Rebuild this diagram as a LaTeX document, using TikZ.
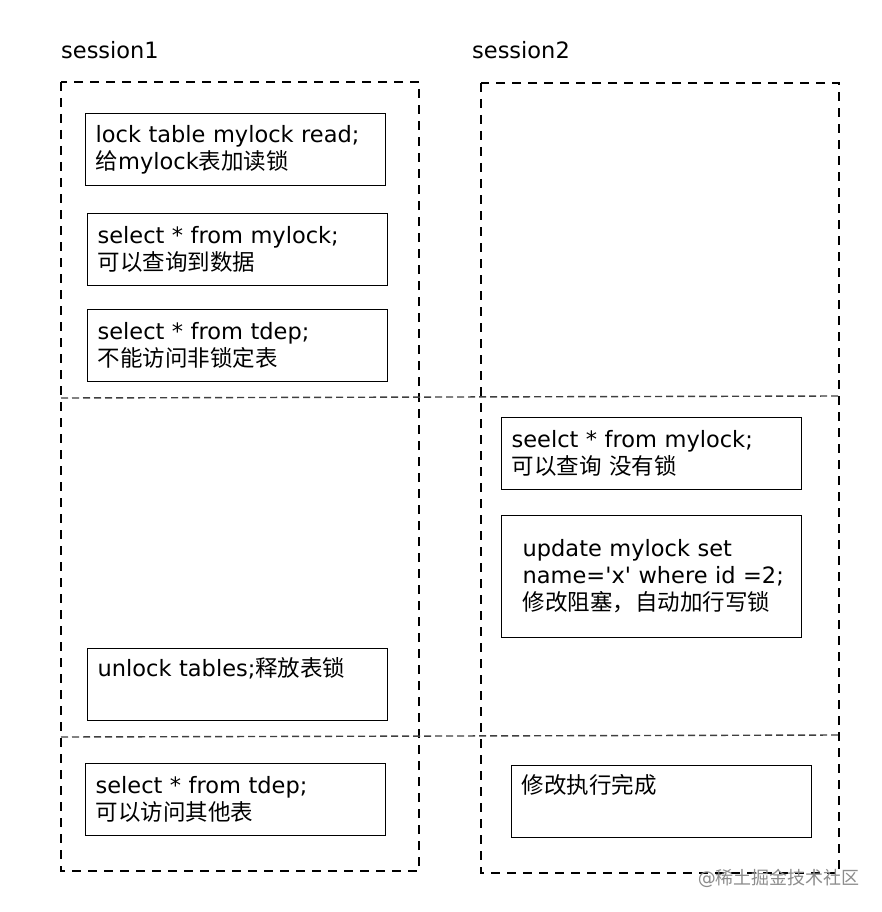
\documentclass[tikz,border=0pt]{standalone}
\usepackage{fontspec}
\setmainfont{DejaVu Sans}[Ligatures=TeXOff]
\newfontfamily\cjk{Noto Sans CJK SC}
\begin{document}
\begin{tikzpicture}[x=1pt,y=-1pt,
  lane/.style={draw=black, line width=1.4pt, dash pattern=on 9pt off 7pt},
  sep/.style={draw=black!75, line width=1.4pt, dash pattern=on 7pt off 4pt},
  stepbox/.style={draw=black, line width=1.3pt, anchor=north west,
    minimum width=300pt, minimum height=72pt, text width=280pt,
    inner xsep=10pt, inner ysep=4pt, align=left,
    font=\fontsize{22.5}{27}\selectfont},
  label/.style={anchor=west, font=\fontsize{22.5}{25}\selectfont, inner sep=0pt}]
\useasboundingbox (0,0) rectangle (882,912);
\fill[white] (0,0) rectangle (882,912);
% session labels
\node[label] (s1) at (61,50) {session1};
\node[label] (s2) at (472,50) {session2};
% session lanes
\draw[lane] (61,82) rectangle (419,871);
\draw[lane] (481,83) rectangle (839,873);
% phase separators
\draw[sep] (61,398) -- (839,396);
\draw[sep] (61,737) -- (839,735);
% session1 steps
\node[stepbox] (a1) at (85,113) {lock table mylock read;\\{\cjk 给}mylock{\cjk 表加读锁}};
\node[stepbox] (a2) at (87,213) {select * from mylock;\\{\cjk 可以查询到数据}};
\node[stepbox] (a3) at (87,309) {select * from tdep;\\{\cjk 不能访问非锁定表}};
\node[stepbox] (a4) at (87,648) {unlock tables;{\cjk 释放表锁}\\\strut};
\node[stepbox] (a5) at (85,763) {select * from tdep;\\{\cjk 可以访问其他表}};
% session2 steps
\node[stepbox] (b1) at (501,417) {seelct * from mylock;\\{\cjk 可以查询 没有锁}};
\node[stepbox, minimum height=122pt] (b2) at (501,515)
  {\hspace*{11pt}update mylock set\\\hspace*{11pt}name='x' where id =2;\\\hspace*{11pt}{\cjk 修改阻塞，自动加行写锁}};
\node[stepbox] (b3) at (511,765) {{\cjk 修改执行完成}\\\strut};
% watermark
\node[anchor=east, text=black!45, font=\fontsize{18}{20}\selectfont, inner sep=0pt] (wm) at (860,878) {@{\cjk 稀土掘金技术社区}};
\end{tikzpicture}
\end{document}
